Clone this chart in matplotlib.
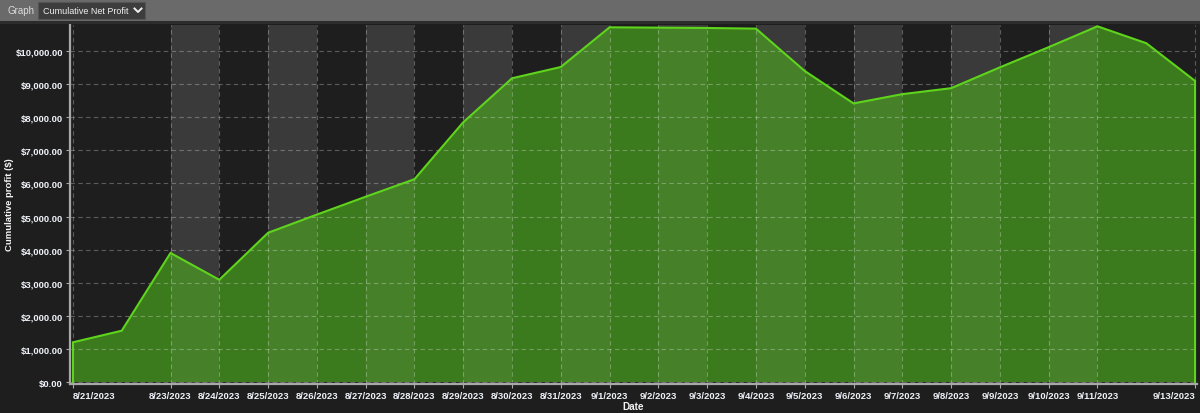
import matplotlib
matplotlib.use("Agg")
import matplotlib.pyplot as plt
from matplotlib.patches import Rectangle
from matplotlib.lines import Line2D
from matplotlib.ticker import FuncFormatter
import numpy as np
import datetime as dt

# ---- data ----
dates = ["8/21/2023", "8/22/2023", "8/23/2023", "8/24/2023", "8/25/2023", "8/26/2023",
         "8/27/2023", "8/28/2023", "8/29/2023", "8/30/2023", "8/31/2023", "9/1/2023",
         "9/2/2023", "9/3/2023", "9/4/2023", "9/5/2023", "9/6/2023", "9/7/2023",
         "9/8/2023", "9/9/2023", "9/10/2023", "9/11/2023", "9/12/2023", "9/13/2023"]
profit = [1200, 1550, 3900, 3090, 4510, 5060, 5600, 6130, 7850, 9180, 9520, 10720,
          10710, 10700, 10680, 9400, 8420, 8700, 8880, 9510, 10120, 10750, 10240, 9100]
tick_labels = ["8/21/2023", "8/23/2023", "8/24/2023", "8/25/2023", "8/26/2023",
               "8/27/2023", "8/28/2023", "8/29/2023", "8/30/2023", "8/31/2023",
               "9/1/2023", "9/2/2023", "9/3/2023", "9/4/2023", "9/5/2023", "9/6/2023",
               "9/7/2023", "9/8/2023", "9/9/2023", "9/10/2023", "9/11/2023", "9/13/2023"]
y_ticks = [0, 1000, 2000, 3000, 4000, 5000, 6000, 7000, 8000, 9000, 10000]

def to_day(s):
    m, d, y = (int(p) for p in s.split("/"))
    return (dt.date(y, m, d) - dt.date(2023, 8, 21)).days

x = np.array([to_day(s) for s in dates], dtype=float)
y = np.array(profit, dtype=float)
tick_pos = [to_day(s) for s in tick_labels]

BG = "#1e1e1e"
fig = plt.figure(figsize=(12, 4.14), dpi=100, facecolor=BG)
plt.rcParams['font.family'] = ['Liberation Sans', 'DejaVu Sans']

# header bar
fig.patches.append(Rectangle((0, 1 - 22/414), 1, 22/414, transform=fig.transFigure,
                             facecolor="#6a6a6a", edgecolor="none", zorder=0))
fig.patches.append(Rectangle((0, 1 - 25/414), 1, 3/414, transform=fig.transFigure,
                             facecolor="#2c2c2c", edgecolor="none", zorder=0))
fig.text(7/1200, 1 - 11/414, "Graph", color="#dcdcdc", fontsize=7, va="center", ha="left")
fig.patches.append(Rectangle((38/1200, 1 - 20/414), 107/1200, 17/414, transform=fig.transFigure,
                             facecolor="#3d3d3d", edgecolor="#555555", lw=0.8, zorder=1))
fig.text(43/1200, 1 - 11.5/414, "Cumulative Net Profit", color="#f0f0f0", fontsize=6.5,
         va="center", ha="left", zorder=2)
fig.lines.append(Line2D([134.5/1200, 138/1200, 141.5/1200],
                        [1 - 9.5/414, 1 - 13/414, 1 - 9.5/414],
                        transform=fig.transFigure, color="#f0f0f0", lw=1.4, zorder=3))

ax = fig.add_axes([70/1200, 1 - 385/414, 1127/1200, 359/414])
ax.set_facecolor(BG)
ax.set_xlim(-0.06, 23.04)
ax.set_ylim(-60, 10790)

# alternating bands between ticks
for i in range(len(tick_pos) - 1):
    if i % 2 == 1:
        ax.axvspan(tick_pos[i], tick_pos[i + 1], facecolor="#2f2f2f", edgecolor="none", zorder=0)

# area
ax.fill_between(x, 0, y, facecolor="#3c7a1e", edgecolor="none", zorder=1)
for i in range(len(tick_pos) - 1):
    if i % 2 == 1:
        ax.axvspan(tick_pos[i], tick_pos[i + 1], facecolor="white", alpha=0.055,
                   edgecolor="none", zorder=1.5)

# grid
for t in tick_pos:
    ax.axvline(t, color="white", alpha=0.28, lw=0.8, ls=(0, (4, 3)), zorder=2)
for v in y_ticks:
    ax.axhline(v, color="white", alpha=0.28, lw=0.8, ls=(0, (4, 3)), zorder=2)

# outline
ax.plot(np.concatenate([[x[0]], x, [x[-1]]]), np.concatenate([[0], y, [0]]),
        color="#5ed41c", lw=1.5, zorder=3, solid_joinstyle="miter")

# axes styling
for s in ["top", "right"]:
    ax.spines[s].set_visible(False)
for s in ["left", "bottom"]:
    ax.spines[s].set_color("#a8a8a8")
    ax.spines[s].set_linewidth(1.6)

ax.set_yticks(y_ticks)
ax.yaxis.set_major_formatter(FuncFormatter(lambda v, p: "${:,.2f}".format(v)))
ax.set_xticks(tick_pos)
ax.set_xticklabels(tick_labels)
ax.tick_params(axis="both", colors="#a8a8a8", labelcolor="#eef2f8", labelsize=6.8,
               length=3, width=0.8, pad=2)
for lbl in ax.get_yticklabels() + ax.get_xticklabels():
    lbl.set_fontweight("bold")
xl = ax.get_xticklabels()
xl[0].set_horizontalalignment("left")
xl[-1].set_horizontalalignment("right")

fig.text(10/1200, 1 - 205/414, "Cumulative profit ($)", rotation=90, color="#f4f4f4",
         fontsize=6.8, fontweight="bold", va="center", ha="center")
fig.text(633/1200, 1 - 407/414, "Date", color="#f4f4f4", fontsize=7.2, fontweight="bold",
         va="center", ha="center")

fig.savefig("out.png", dpi=100, facecolor=BG)
